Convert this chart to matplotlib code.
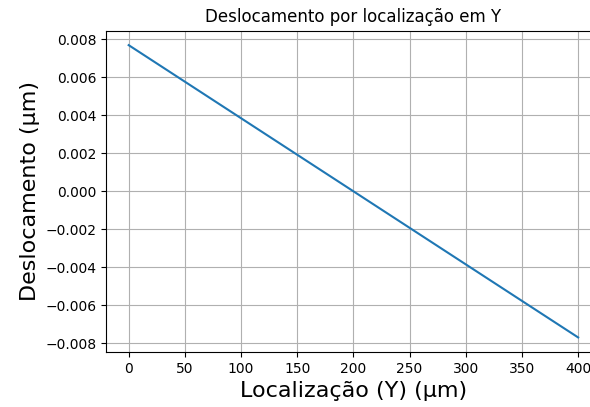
import matplotlib
matplotlib.use("Agg")
import matplotlib.pyplot as plt

# deslocamento ao longo de Y
loc_y = [0, 100, 200, 300, 400]
desloc = [0.0077, 0.00385, 0.0, -0.00385, -0.0077]

fig, ax = plt.subplots(figsize=(5.9, 4.07), dpi=100)
fig.subplots_adjust(left=0.18, right=1.018, top=0.925, bottom=0.135)

ax.plot(loc_y, desloc, color="tab:blue")
ax.set_title("Deslocamento por localização em Y")
ax.set_xlabel("Localização (Y) (μm)", fontsize=16)
ax.set_ylabel("Deslocamento (μm)", fontsize=16)
ax.grid(True)

fig.savefig("out.png", dpi=100)
